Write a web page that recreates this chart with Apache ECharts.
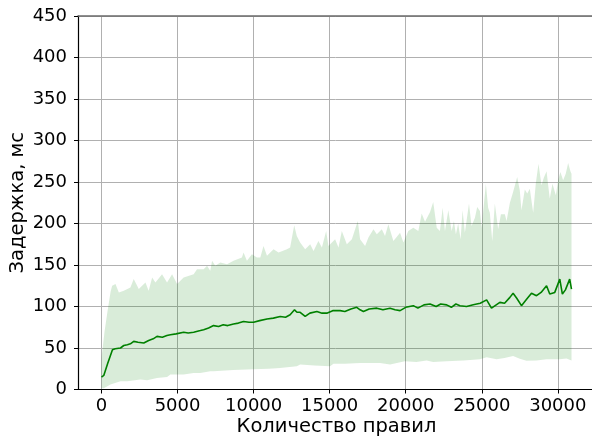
<!DOCTYPE html>
<html>
<head>
<meta charset="utf-8">
<script src="https://cdn.jsdelivr.net/npm/echarts@6/dist/echarts.min.js"></script>
<style>
html,body{margin:0;padding:0;background:#fff;}
#chart{width:592px;height:443px;}
</style>
</head>
<body>
<div id="chart"></div>
<script>
// Mean latency line
const meanX = [0,150,400,720,900,1030,1250,1465,1700,1900,2120,2400,2780,3100,3400,3650,4000,4300,4530,4900,5400,5700,6060,6500,6715,7040,7370,7700,8000,8300,8680,9000,9340,9700,10000,10400,10880,11300,11750,12100,12400,12690,12850,13060,13390,13700,14160,14500,14810,15200,15690,16000,16400,16780,17000,17220,17600,18100,18500,18970,19300,19630,20000,20500,20800,21200,21600,22000,22300,22690,23000,23300,23570,24000,24440,24900,25320,25640,26190,26500,26850,27060,27300,27610,28000,28270,28600,28900,29260,29470,29800,30130,30300,30500,30780,30900];
const meanY = [15,17,31,48,49,51,50,53,54,55,58,57,56,59,61,64,63,65,66,67,69,68,69,71,72,74,77,76,78,77,79,80,82,81,81,83,85,86,88,87,90,96,93,93,88,92,94,92,92,95,95,94,97,99,96,94,97,98,96,98,96,95,99,101,98,102,103,100,103,102,99,103,101,100,102,104,108,98,105,104,111,116,110,101,110,116,113,117,125,115,117,133,115,120,133,121];

// Upper edge of band
const upperX = [0,200,400,600,700,920,1140,1465,1900,2120,2450,2670,2890,3100,3330,3545,3980,4310,4640,4970,5400,6060,6280,6715,6940,7150,7270,7480,7810,8250,8680,9230,9340,9560,9890,10220,10440,10650,10880,11310,11640,12190,12400,12670,12840,13060,13390,13720,13940,14260,14490,14770,14920,15360,15580,15800,16130,16460,16850,17000,17330,17550,17880,18100,18430,18640,18860,19190,19630,19850,20170,20500,20830,21050,21270,21600,21810,22040,22250,22430,22580,22800,23020,23170,23300,23450,23610,23740,23890,24160,24330,24550,24700,24880,24990,25270,25420,25530,25690,25860,26080,26260,26520,26630,26850,27060,27330,27500,27610,27830,27990,28160,28380,28550,28730,28930,29080,29260,29470,29650,29870,30020,30170,30350,30520,30680,30830,30900];
const upperY = [38,70,95,118,125,127,117,119,123,133,121,125,129,119,135,129,139,129,139,127,135,139,145,145,149,143,155,149,153,151,155,159,165,155,163,159,159,173,161,169,165,169,171,198,185,177,169,175,167,179,171,191,173,181,171,191,175,181,203,181,173,183,193,187,193,185,199,179,189,177,191,195,191,212,202,214,226,195,191,219,191,216,191,203,187,200,181,216,189,224,197,207,220,215,195,248,219,213,179,224,193,211,211,203,225,238,256,240,216,241,236,242,213,248,272,246,255,263,230,248,234,252,262,252,260,273,263,260];

// Lower edge of band
const lowerX = [0,150,590,1250,1690,2560,3000,3650,4310,4530,5400,6060,6500,7150,7370,8680,10000,11000,11750,12840,13060,14000,15030,15250,16000,17000,18310,18970,19950,20700,21380,21800,22690,23800,24880,25320,25970,26500,27060,27500,27940,28600,29260,30130,30570,30900];
const lowerY = [1.5,1.5,6,10,10,12,11,14,15,18,18,20,20,22,22,23.5,24.5,25,26,28,30,29,28,31,31,32,32,30,34,33,35,33,34,35,36.5,39,36.5,38,40.5,37,34.5,35,36.5,36.5,37.5,35];

const yTicks = [0,50,100,150,200,250,300,350,400,450];

const meanData = meanX.map((x,i)=>[x, meanY[i]]);
const upperPts = upperX.map((x,i)=>[x, upperY[i]]);
const lowerPts = lowerX.map((x,i)=>[x, lowerY[i]]);

const FONT = 'DejaVu Sans';
const chart = echarts.init(document.getElementById('chart'), null, {renderer:'canvas'});
const xMin = -1545, xMax = 32445;
chart.setOption({
  animation:false,
  backgroundColor:'#ffffff',
  grid:{left:78, right:-3, top:16, bottom:53.5, containLabel:false, outerBoundsMode:'none'},
  xAxis:[{
    type:'value', min:xMin, max:xMax, splitNumber:7,
    name:'Количество правил', nameLocation:'middle', nameGap:27, nameMoveOverlap:false,
    nameTextStyle:{fontFamily:FONT, fontSize:19.5, color:'#000'},
    axisLine:{show:true, onZero:false, lineStyle:{color:'#000', width:1.2}},
    axisTick:{show:true, length:4, lineStyle:{color:'#000', width:1}},
    axisLabel:{fontFamily:FONT, fontSize:18, color:'#000', margin:8, showMinLabel:false, showMaxLabel:false,
      formatter:function(v){return String(Math.round(v));}},
    splitLine:{show:true, lineStyle:{color:'#b0b0b0', width:1}}
  },{
    type:'value', position:'top', min:xMin, max:xMax,
    axisLine:{show:true, onZero:false, lineStyle:{color:'#6b6b6b', width:1.6}},
    axisTick:{show:false}, axisLabel:{show:false}, splitLine:{show:false}
  }],
  yAxis:{
    type:'value', min:yTicks[0], max:yTicks[yTicks.length-1], interval:50,
    name:'Задержка, мс', nameLocation:'middle', nameGap:50, nameRotate:90, nameMoveOverlap:false,
    nameTextStyle:{fontFamily:FONT, fontSize:19.5, color:'#000'},
    axisLine:{show:true, onZero:false, lineStyle:{color:'#000', width:1.2}},
    axisTick:{show:true, length:4, lineStyle:{color:'#000', width:1}},
    axisLabel:{fontFamily:FONT, fontSize:18, color:'#000', margin:11},
    splitLine:{show:true, lineStyle:{color:'#b0b0b0', width:1}}
  },
  series:[{
    type:'custom',
    coordinateSystem:'cartesian2d',
    xAxisIndex:0,
    data:[[0,0]],
    clip:true,
    z:1,
    renderItem:function(params, api){
      const pts = [];
      upperPts.forEach(p=>pts.push(api.coord(p)));
      for(let i=lowerPts.length-1;i>=0;i--) pts.push(api.coord(lowerPts[i]));
      return {type:'polygon', shape:{points:pts}, style:{fill:'rgba(0,128,0,0.15)', stroke:null}};
    }
  },{
    type:'line',
    xAxisIndex:0,
    data:meanData,
    showSymbol:false,
    z:3,
    lineStyle:{color:'#008000', width:1.6},
    itemStyle:{color:'#008000'}
  }]
});
</script>
</body>
</html>
